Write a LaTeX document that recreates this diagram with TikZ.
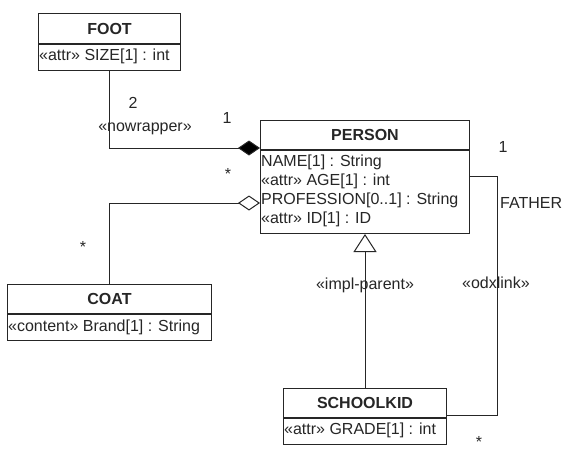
\documentclass[tikz,border=0pt]{standalone}
\usepackage{fontspec}
\setmainfont{Liberation Sans}
\usetikzlibrary{arrows.meta}
\begin{document}
\begin{tikzpicture}[x=1pt,y=-1pt,
  every node/.style={font=\fontsize{16}{19}\selectfont, text=black!85, text height=11.5pt, text depth=0pt, inner sep=0pt},
  hdr/.style={draw=black!85, line width=1pt, anchor=north west, font=\fontsize{16}{19}\selectfont\bfseries},
  bdy/.style={draw=black!85, line width=1pt, anchor=north west},
  attr/.style={anchor=west},
  lbl/.style={anchor=center},
  conn/.style={draw=black!85, line width=1pt}
]
\useasboundingbox[fill=white] (0,0) rectangle (568,450);

% FOOT
\node[hdr, minimum width=142pt, minimum height=30pt] (footh) at (38,13) {FOOT};
\node[bdy, minimum width=142pt, minimum height=26pt] (footb) at (footh.south west) {};
\node[attr] (foota) at (39,55) {«attr» SIZE[1] : int};

% PERSON
\node[hdr, minimum width=209pt, minimum height=29pt] (personh) at (260,120) {PERSON};
\node[bdy, minimum width=209pt, minimum height=83pt] (personb) at (personh.south west) {};
\node[attr] (pa1) at (261,161) {NAME[1] : String};
\node[attr] (pa2) at (261,180) {«attr» AGE[1] : int};
\node[attr] (pa3) at (261,199) {PROFESSION[0..1] : String};
\node[attr] (pa4) at (261,218) {«attr» ID[1] : ID};

% COAT
\node[hdr, minimum width=204pt, minimum height=29pt] (coath) at (7,284) {COAT};
\node[bdy, minimum width=204pt, minimum height=26pt] (coatb) at (coath.south west) {};
\node[attr] (coata) at (8,326) {«content» Brand[1] : String};

% SCHOOLKID
\node[hdr, minimum width=163pt, minimum height=29pt] (kidh) at (283,388) {SCHOOLKID};
\node[bdy, minimum width=163pt, minimum height=26pt] (kidb) at (kidh.south west) {};
\node[attr] (kida) at (284,429) {«attr» GRADE[1] : int};

% connector points
\coordinate (pfoot) at (260,148);
\coordinate (pcoat) at (260,203);
\coordinate (pfather) at (469,176);
\coordinate (kfather) at (446,415);
\coordinate (fcorner) at (497,176);
\coordinate (fcorner2) at (497,415);

% FOOT -- PERSON composition
\draw[conn, -{Diamond[length=22pt,width=15pt,fill=black]}] (footb.south) |- (pfoot);
% COAT -- PERSON aggregation
\draw[conn, -{Diamond[open,length=22pt,width=15pt,fill=white]}] (coath.north) |- (pcoat);
% SCHOOLKID -- PERSON generalization
\draw[conn, -{Triangle[open,length=18pt,width=23pt,fill=white]}] (kidh.north) -- (personb.south);
% FATHER link
\draw[conn] (pfather) -- (fcorner) -- (fcorner2) -- (kfather);

% labels
\node[lbl] (l2) at (133,103) {2};
\node[lbl] (lnw) at (145,126) {«nowrapper»};
\node[lbl] (l1a) at (227,118) {1};
\node[lbl] (s1) at (228,174) {*};
\node[lbl] (s2) at (83,247) {*};
\node[lbl] (l1b) at (503,147) {1};
\node[anchor=west] (lf) at (500,203) {FATHER};
\node[lbl] (lip) at (365,284) {«impl-parent»};
\node[lbl] (lodx) at (496,283) {«odxlink»};
\node[lbl] (s3) at (479,442) {*};
\end{tikzpicture}
\end{document}
